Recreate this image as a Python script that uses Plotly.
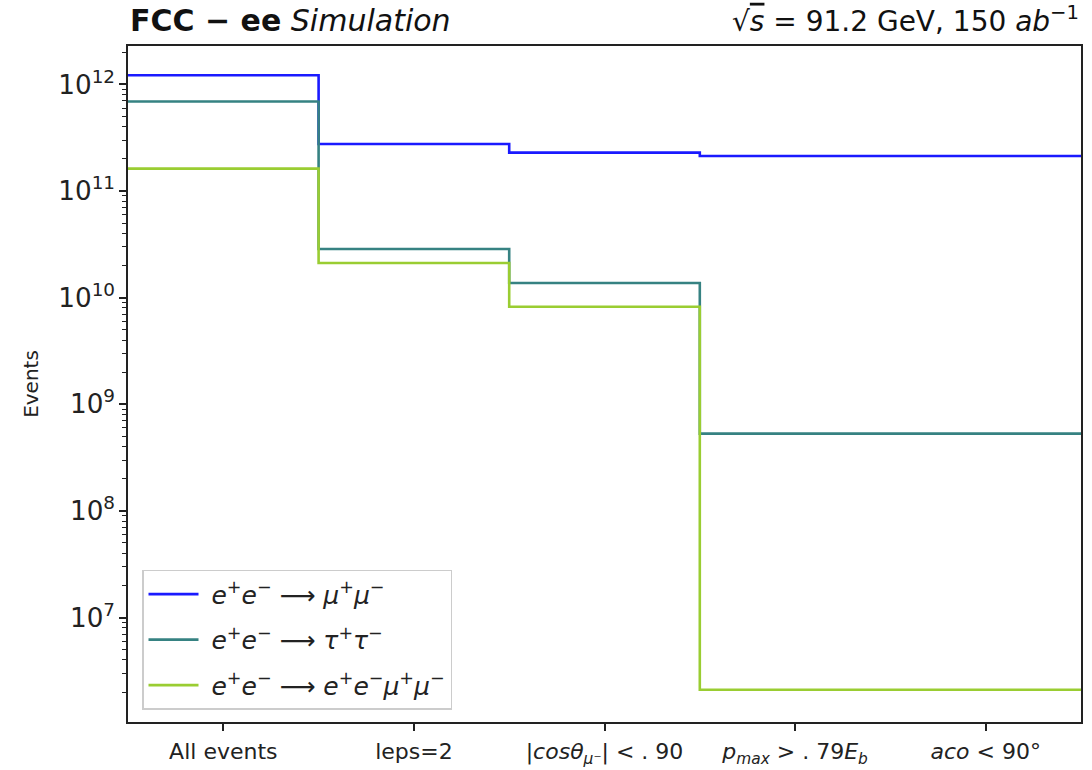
import plotly.graph_objects as go

# Cut-flow categories (x tick labels)
cut_labels = [
    "All events",
    "leps=2",
    "|<i>cosθ</i><sub><i>μ</i>⁻</sub>| < . 90",
    "<i>p</i><sub><i>max</i></sub> > . 79<i>E</i><sub><i>b</i></sub>",
    "<i>aco</i> < 90°",
]

# Events surviving each cut, per process
mumu = [1.22e12, 2.76e11, 2.29e11, 2.13e11, 2.13e11]
tautau = [6.9e11, 2.86e10, 1.37e10, 5.3e8, 5.3e8]
eemumu = [1.62e11, 2.11e10, 8.2e9, 2.1e6, 2.1e6]

series_names = [
    "\u00a0<i>e</i><sup>+</sup><i>e</i><sup>−</sup> ⟶ <i>μ</i><sup>+</sup><i>μ</i><sup>−</sup>",
    "\u00a0<i>e</i><sup>+</sup><i>e</i><sup>−</sup> ⟶ <i>τ</i><sup>+</sup><i>τ</i><sup>−</sup>",
    "\u00a0<i>e</i><sup>+</sup><i>e</i><sup>−</sup> ⟶ <i>e</i><sup>+</sup><i>e</i><sup>−</sup><i>μ</i><sup>+</sup><i>μ</i><sup>−</sup>",
]
series_colors = ["#1a1aff", "#368282", "#9acd32"]

FONT = "DejaVu Sans"
INK = "#222222"

# bin edges around each category index, for a histogram-style step line
n = len(cut_labels)
edges = [i - 0.5 for i in range(n + 1)]

fig = go.Figure()
for i, (vals, name, col) in enumerate(zip([mumu, tautau, eemumu], series_names, series_colors)):
    fig.add_trace(go.Scatter(
        x=edges,
        y=list(vals) + [vals[-1]],
        mode="lines",
        line=dict(shape="hv", color=col, width=2.6),
        name=name,
        legendgroup="g%d" % i,
    ))

fig.update_layout(
    width=1092,
    height=770,
    margin=dict(l=128, r=11, t=46, b=48),
    paper_bgcolor="white",
    plot_bgcolor="white",
    font=dict(family=FONT, size=20, color=INK),
    showlegend=True,
    legend=dict(
        x=0.0147, y=0.018, xanchor="left", yanchor="bottom",
        bgcolor="rgba(255,255,255,0.8)",
        bordercolor="#cccccc", borderwidth=1.5,
        font=dict(family=FONT, size=25, color=INK),
        traceorder="grouped",
        tracegroupgap=10,
        itemwidth=50,
    ),
    xaxis=dict(
        automargin=False,
        range=[-0.5, 4.5],
        tickvals=list(range(n)),
        ticktext=cut_labels,
        ticks="outside", ticklen=7, tickwidth=1.5, tickcolor=INK,
        ticklabelstandoff=2,
        showline=True, linecolor=INK, linewidth=1.5, mirror=True,
        showgrid=False, zeroline=False,
        tickfont=dict(family=FONT, size=22, color=INK),
    ),
    yaxis=dict(
        automargin=False,
        type="log",
        range=[6.02, 12.36],
        dtick=1,
        exponentformat="power",
        showexponent="all",
        ticks="outside", ticklen=7, tickwidth=1.5, tickcolor=INK,
        minor=dict(ticks="outside", ticklen=4, tickwidth=1.2, tickcolor=INK,
                   dtick="D1", showgrid=False),
        showline=True, linecolor=INK, linewidth=1.5, mirror=True,
        showgrid=False, zeroline=False,
        tickfont=dict(family=FONT, size=21, color=INK),
        title=dict(text="Events", font=dict(family=FONT, size=20, color=INK), standoff=14),
    ),
)

fig.add_annotation(
    xref="paper", yref="paper", x=0, y=1, xanchor="left", yanchor="bottom",
    yshift=6, showarrow=False,
    text="<b>FCC − ee</b> <i>Simulation</i>",
    font=dict(family=FONT, size=30, color="#111111"),
)
fig.add_annotation(
    xref="paper", yref="paper", x=1, y=1, xanchor="right", yanchor="bottom",
    yshift=6, showarrow=False,
    text="√<span style='text-decoration:overline'><i>s</i></span> = 91.2 GeV, 150 <i>ab</i><sup>−1</sup>",
    font=dict(family=FONT, size=28, color="#111111"),
)

fig.write_html("out.html")
